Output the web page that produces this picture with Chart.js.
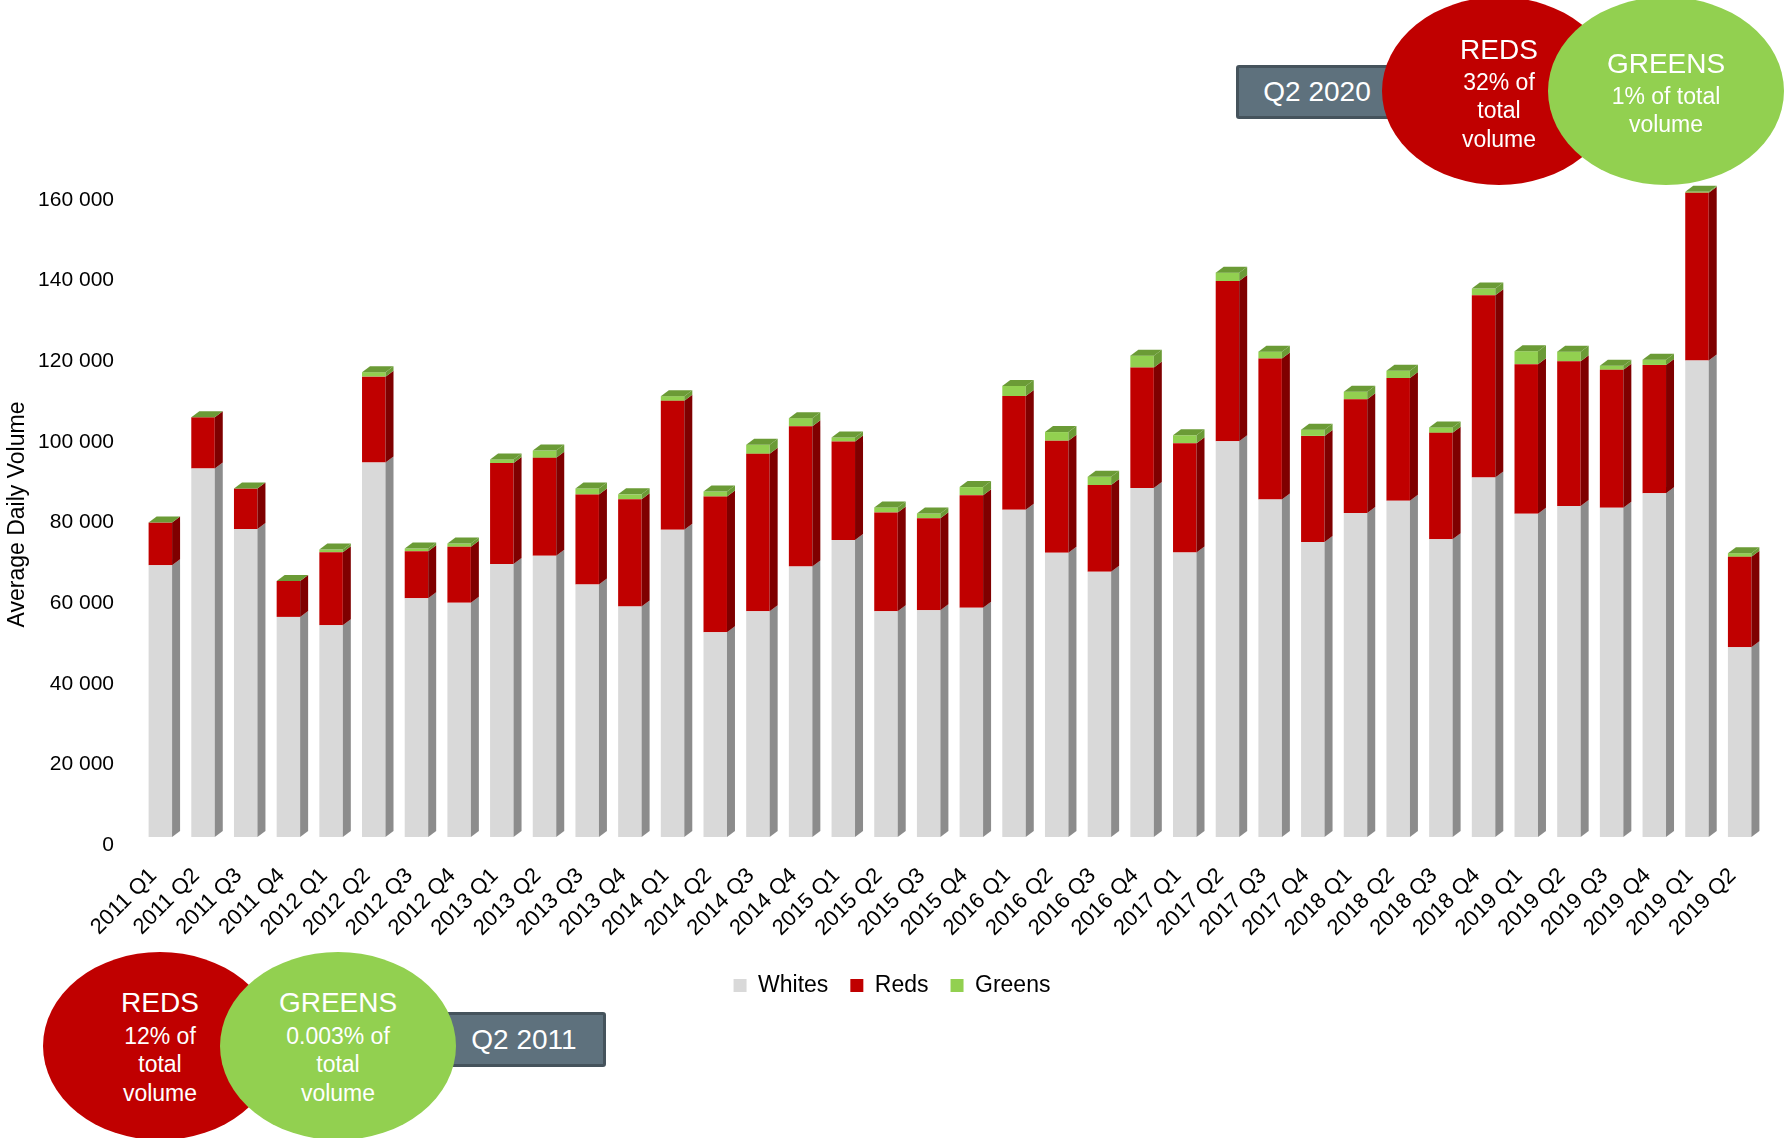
<!DOCTYPE html>
<html>
<head>
<meta charset="utf-8">
<title>Average Daily Volume</title>
<script src="https://cdn.jsdelivr.net/npm/chart.js@4.4.1/dist/chart.umd.min.js"></script>
<style>
  html, body { margin: 0; padding: 0; background: #fff; }
  #wrap { position: relative; width: 1787px; height: 1138px; overflow: hidden; font-family: "Liberation Sans", Arial, sans-serif; }
  #chart { position: absolute; left: 0; top: 0; }
  .blob { position: absolute; border-radius: 50%; }
  .red { background: #c00000; }
  .green { background: #92d050; }
  .tag { position: absolute; box-sizing: border-box; background: #5e717d; border: 3px solid #45535c; border-radius: 3px; }
  .txt { position: absolute; color: #fff; transform: translate(-50%, -50%); white-space: nowrap; line-height: 1; }
  .big { font-size: 28px; }
  .small { font-size: 23px; }
</style>
</head>
<body>
<div id="wrap">
  <canvas id="chart" width="1787" height="1138"></canvas>

  <!-- callout, top right -->
  <div class="tag" style="left:1236px;top:65px;width:170px;height:54px"></div>
  <div class="txt big" style="left:1317px;top:92px">Q2 2020</div>
  <div class="blob red" style="left:1382px;top:-3px;width:234px;height:188px"></div>
  <div class="blob green" style="left:1548px;top:-3px;width:236px;height:188px"></div>
  <div class="txt big" style="left:1499px;top:50px">REDS</div>
  <div class="txt small" style="left:1499px;top:82px">32% of</div>
  <div class="txt small" style="left:1499px;top:110px">total</div>
  <div class="txt small" style="left:1499px;top:139px">volume</div>
  <div class="txt big" style="left:1666px;top:64px">GREENS</div>
  <div class="txt small" style="left:1666px;top:96px">1% of total</div>
  <div class="txt small" style="left:1666px;top:124px">volume</div>

  <!-- callout, bottom left -->
  <div class="blob red" style="left:43px;top:952px;width:234px;height:188px"></div>
  <div class="tag" style="left:440px;top:1012px;width:166px;height:55px"></div>
  <div class="txt big" style="left:524px;top:1040px">Q2 2011</div>
  <div class="blob green" style="left:220px;top:952px;width:236px;height:188px"></div>
  <div class="txt big" style="left:160px;top:1003px">REDS</div>
  <div class="txt small" style="left:160px;top:1036px">12% of</div>
  <div class="txt small" style="left:160px;top:1064px">total</div>
  <div class="txt small" style="left:160px;top:1093px">volume</div>
  <div class="txt big" style="left:338px;top:1003px">GREENS</div>
  <div class="txt small" style="left:338px;top:1036px">0.003% of</div>
  <div class="txt small" style="left:338px;top:1064px">total</div>
  <div class="txt small" style="left:338px;top:1093px">volume</div>
</div>

<script>
// quarters as printed on the original axis (last two are really 2020)
const categories = [
  "2011 Q1", "2011 Q2", "2011 Q3", "2011 Q4",
  "2012 Q1", "2012 Q2", "2012 Q3", "2012 Q4",
  "2013 Q1", "2013 Q2", "2013 Q3", "2013 Q4",
  "2014 Q1", "2014 Q2", "2014 Q3", "2014 Q4",
  "2015 Q1", "2015 Q2", "2015 Q3", "2015 Q4",
  "2016 Q1", "2016 Q2", "2016 Q3", "2016 Q4",
  "2017 Q1", "2017 Q2", "2017 Q3", "2017 Q4",
  "2018 Q1", "2018 Q2", "2018 Q3", "2018 Q4",
  "2019 Q1", "2019 Q2", "2019 Q3", "2019 Q4",
  "2019 Q1", "2019 Q2",
];

const whites = [
  67400, 91400, 76400, 54600,
  52550, 92900, 59250, 58100,
  67750, 69750, 62650, 57200,
  76200, 50800, 56000, 67100,
  73650, 56000, 56250, 56850,
  81200, 70500, 65800, 86600,
  70600, 98200, 83700, 73200,
  80350, 83400, 73850, 89200,
  80200, 82100, 81650, 85300,
  118200, 47100,
];

const reds = [
  10600, 12750, 10050, 8900,
  18100, 21300, 11650, 13900,
  25000, 24300, 22300, 26600,
  32000, 33650, 39050, 34800,
  24450, 24500, 22850, 27950,
  28200, 27800, 21500, 29850,
  27100, 39700, 35000, 26300,
  28250, 30450, 26400, 45200,
  37100, 35900, 34250, 31800,
  41600, 22400,
];

const greens = [
  5, 3, 5, 5,
  650, 1100, 650, 800,
  900, 1800, 1500, 1200,
  1150, 1250, 2250, 2000,
  1000, 1250, 1150, 2000,
  2500, 2150, 2050, 2950,
  1950, 2100, 1700, 1550,
  1850, 1800, 1350, 1650,
  3200, 2400, 1000, 1300,
  250, 900,
];

const yMax = 160000;
const yStep = 20000;

// darker shades for the fake 3D side and top faces
const sideColors = ["#8c8c8c", "#7f0000", "#6b9b36"];
const capColor = "#6b9b36";
const depthX = 8;
const depthY = 6;

const bars3d = {
  id: "bars3d",
  afterDatasetsDraw(chart) {
    const ctx = chart.ctx;
    const metas = chart.data.datasets.map((_, i) => chart.getDatasetMeta(i));
    ctx.save();
    metas.forEach((meta, d) => {
      meta.data.forEach((bar) => {
        const { x, y, base, width } = bar.getProps(["x", "y", "base", "width"], true);
        const right = x + width / 2;
        const top = Math.min(y, base);
        const bottom = Math.max(y, base);
        ctx.fillStyle = sideColors[d];
        ctx.beginPath();
        ctx.moveTo(right, top);
        ctx.lineTo(right + depthX, top - depthY);
        ctx.lineTo(right + depthX, bottom - depthY);
        ctx.lineTo(right, bottom);
        ctx.closePath();
        ctx.fill();
      });
    });
    const last = metas[metas.length - 1];
    last.data.forEach((bar) => {
      const { x, y, width } = bar.getProps(["x", "y", "width"], true);
      const left = x - width / 2;
      const right = x + width / 2;
      ctx.fillStyle = capColor;
      ctx.beginPath();
      ctx.moveTo(left, y);
      ctx.lineTo(left + depthX, y - depthY);
      ctx.lineTo(right + depthX, y - depthY);
      ctx.lineTo(right, y);
      ctx.closePath();
      ctx.fill();
    });
    ctx.restore();
  },
};

function spaced(v) {
  return String(v).replace(/\B(?=(\d{3})+(?!\d))/g, " ");
}

Chart.defaults.font.family = '"Liberation Sans", Arial, sans-serif';
Chart.defaults.color = "#000";

new Chart(document.getElementById("chart"), {
  type: "bar",
  data: {
    labels: categories,
    datasets: [
      { label: "Whites", data: whites, backgroundColor: "#d9d9d9" },
      { label: "Reds", data: reds, backgroundColor: "#c00000" },
      { label: "Greens", data: greens, backgroundColor: "#92d050" },
    ],
  },
  options: {
    responsive: false,
    devicePixelRatio: 1,
    animation: false,
    layout: { padding: { left: 23, right: 26, top: 192, bottom: 131 } },
    datasets: { bar: { barPercentage: 0.55, categoryPercentage: 1.0 } },
    plugins: {
      legend: {
        position: "bottom",
        labels: {
          boxWidth: 13,
          boxHeight: 13,
          padding: 22,
          color: "#000",
          font: { size: 23 },
        },
      },
      tooltip: { enabled: false },
    },
    scales: {
      x: {
        stacked: true,
        grid: { display: false, drawTicks: false },
        border: { display: false },
        ticks: {
          autoSkip: false,
          minRotation: 45,
          maxRotation: 45,
          padding: 26,
          labelOffset: -7,
          font: { size: 22 },
        },
        afterFit(scale) {
          scale.height = 115;
        },
      },
      y: {
        stacked: true,
        min: 0,
        max: yMax,
        grid: { display: false, drawTicks: false },
        border: { display: false },
        ticks: {
          stepSize: yStep,
          padding: 25,
          labelOffset: 8,
          font: { size: 21 },
          callback: (v) => spaced(v),
        },
        title: {
          display: true,
          text: "Average Daily Volume",
          font: { size: 23 },
          padding: { top: -19, bottom: 0 },
        },
        afterFit(scale) {
          scale.width = 116;
        },
      },
    },
  },
  plugins: [bars3d],
});
</script>
</body>
</html>
